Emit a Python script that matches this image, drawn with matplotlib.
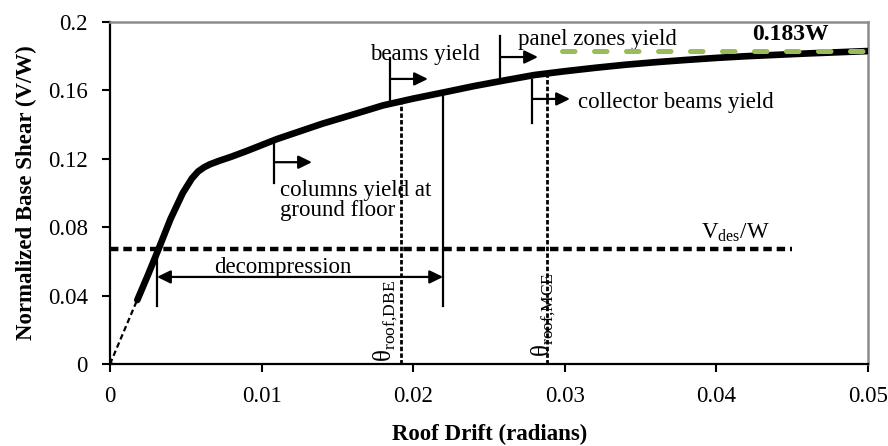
import matplotlib
matplotlib.use('Agg')
import matplotlib.pyplot as plt

plt.rcParams['font.family'] = ['Liberation Serif', 'DejaVu Serif']
plt.rcParams['mathtext.fontset'] = 'custom'
plt.rcParams['mathtext.rm'] = 'Liberation Serif'

#------------------------------- data -----------------------------------------
# pushover curve (thick part)
drift = [0.0018, 0.0025, 0.0032, 0.004, 0.0048, 0.0054, 0.0058, 0.0062, 0.0066,
         0.0072, 0.008, 0.009, 0.010, 0.011, 0.012, 0.014, 0.016, 0.018, 0.020,
         0.022, 0.024, 0.026, 0.028, 0.030, 0.032, 0.034, 0.036, 0.038, 0.040,
         0.042, 0.044, 0.046, 0.048, 0.050]
shear = [0.0374, 0.052, 0.0672, 0.085, 0.100, 0.1085, 0.1125, 0.1150, 0.1168,
         0.1188, 0.1212, 0.1245, 0.128, 0.1315, 0.1345, 0.1405, 0.1458, 0.1512,
         0.1552, 0.1588, 0.1625, 0.1658, 0.1690, 0.1712, 0.1732, 0.1750, 0.1765,
         0.1778, 0.1790, 0.1800, 0.1808, 0.1816, 0.1823, 0.1830]
# first (dashed) segment
drift_init = [0.0, 0.0022]
shear_init = [0.0, 0.046]

v_des = 0.067          # design base shear / W
v_des_end = 0.045
v_max = 0.183          # peak
v_max_start = 0.0298
theta_dbe = 0.0192
theta_mce = 0.0288

# yield events
event_names = ['columns yield at\nground floor', 'beams yield', 'panel zones yield', 'collector beams yield']
event_x = [0.01082, 0.01847, 0.02573, 0.02784]
event_y0 = [0.1058, 0.1544, 0.1673, 0.1409]
event_y1 = [0.131, 0.179, 0.1918, 0.1661]
event_arrow_y = [0.118, 0.1667, 0.1795, 0.155]

decomp_start = 0.0031
decomp_end = 0.02197

x_ticks = [0, 0.01, 0.02, 0.03, 0.04, 0.05]
x_ticklabels = ['0', '0.01', '0.02', '0.03', '0.04', '0.05']
y_ticks = [0, 0.04, 0.08, 0.12, 0.16, 0.2]
y_ticklabels = ['0', '0.04', '0.08', '0.12', '0.16', '0.2']

#------------------------------- plot -----------------------------------------
fig = plt.figure(figsize=(8.88, 4.46), dpi=100)
ax = fig.add_axes([0.1239, 0.1839, 0.8536, 0.7668])

FS = 16.5

ax.plot(drift_init, shear_init, color='k', lw=1.6, dashes=(2.5, 1.5),
        marker='D', markersize=3, markevery=[0])
ax.plot(drift, shear, color='k', lw=4.8, solid_capstyle='round', zorder=3)

# design shear
ax.plot([0, v_des_end], [v_des, v_des], color='k', lw=3.2, dashes=(1.9, 1.1),
        dash_capstyle='butt', zorder=2)
ax.text(0.04123, 0.0766, 'V$_{\\mathrm{des}}$/W', fontsize=FS, ha='center', va='center')

# peak shear
ax.plot([v_max_start, 0.05], [v_max, v_max], color='#9BBB59', lw=3.6,
        dashes=(2.5, 3.9), dash_capstyle='round', zorder=4, clip_on=False)
ax.text(0.04485, 0.1924, '0.183W', fontsize=FS + 0.5, fontweight='bold', ha='center', va='center')

# drift demand lines
for th, yt in [(theta_dbe, 0.1535), (theta_mce, 0.1695)]:
    ax.plot([th, th], [0, yt], color='k', lw=2.0, dashes=(1.6, 0.8), zorder=2)
ax.text(0.01915, 0.001, 'θ$_{\\mathrm{roof{,}DBE}}$', fontsize=FS + 1.5, rotation=90,
        ha='right', va='bottom')
ax.text(0.02955, 0.004, 'θ$_{\\mathrm{roof{,}MCE}}$', fontsize=FS + 1.5, rotation=90,
        ha='right', va='bottom')

# yield events
arrow = dict(arrowstyle='-|>,head_length=0.45,head_width=0.22', color='k',
             lw=1.6, shrinkA=0, shrinkB=0, mutation_scale=18)
for x, y0, y1, ya in zip(event_x, event_y0, event_y1, event_arrow_y):
    ax.plot([x, x], [y0, y1], color='k', lw=1.6)
    ax.annotate('', xy=(x + 0.0025, ya), xytext=(x, ya), arrowprops=arrow)
ax.text(0.01121, 0.0955, event_names[0], fontsize=FS, ha='left', va='center', linespacing=0.95)
ax.text(0.01715, 0.1807, event_names[1], fontsize=FS, ha='left', va='center')
ax.text(0.02691, 0.1895, event_names[2], fontsize=FS, ha='left', va='center')
ax.text(0.03087, 0.1532, event_names[3], fontsize=FS, ha='left', va='center')

# decompression
ax.plot([decomp_start, decomp_start], [0.0339, 0.062], color='k', lw=1.6)
ax.plot([decomp_end, decomp_end], [0.0339, 0.1585], color='k', lw=1.6)
ax.annotate('', xy=(decomp_end, 0.0509), xytext=(decomp_start, 0.0509),
            arrowprops=dict(arrow, arrowstyle='<|-|>,head_length=0.45,head_width=0.22'))
ax.text(0.01141, 0.0567, 'decompression', fontsize=FS, ha='center', va='center')

ax.set_xlim(0, 0.05)
ax.set_ylim(0, 0.2)
ax.set_xticks(x_ticks)
ax.set_xticklabels(x_ticklabels)
ax.set_yticks(y_ticks)
ax.set_yticklabels(y_ticklabels)
ax.tick_params(direction='out', length=6, width=1.5, labelsize=FS, pad=10)

for s in ['left', 'bottom']:
    ax.spines[s].set_color('k')
    ax.spines[s].set_linewidth(1.6)
for s in ['top', 'right']:
    ax.spines[s].set_color('#8c8c8c')
    ax.spines[s].set_linewidth(1.8)

ax.set_xlabel('Roof Drift (radians)', fontsize=FS, fontweight='bold', va='center')
ax.set_ylabel('Normalized Base Shear (V/W)', fontsize=FS, fontweight='bold')
ax.xaxis.set_label_coords(0.501, -0.205)
ax.yaxis.set_label_coords(-0.096, 0.5)

fig.savefig('out.png', dpi=100)
